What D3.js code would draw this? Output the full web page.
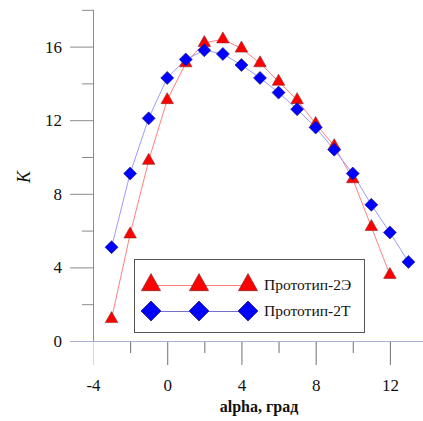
<!DOCTYPE html>
<html>
<head>
<meta charset="utf-8">
<script src="https://cdn.jsdelivr.net/npm/d3@7"></script>
<style>
  html, body { margin: 0; padding: 0; background: #fff; }
  svg { display: block; }
</style>
</head>
<body>
<svg id="chart" width="423" height="421"></svg>
<script>
// Angle of attack, degrees
const alphaE = [-3, -2, -1, 0, 1, 2, 3, 4, 5, 6, 7, 8, 9, 10, 11, 12];
const kE = [1.2, 5.8, 9.8, 13.1, 15.1, 16.2, 16.4, 15.9, 15.1, 14.1, 13.1, 11.8, 10.6, 8.8, 6.2, 3.6];

const alphaT = [-3, -2, -1, 0, 1, 2, 3, 4, 5, 6, 7, 8, 9, 10, 11, 12, 13];
const kT = [5.1, 9.1, 12.1, 14.3, 15.3, 15.8, 15.6, 15.0, 14.3, 13.5, 12.6, 11.6, 10.4, 9.1, 7.4, 5.9, 4.3];

const seriesNames = ["Прототип-2Э", "Прототип-2Т"];
const xMajorTicks = [-4, 0, 4, 8, 12];
const xMinorTicks = [-2, 2, 6, 10];
const yMajorTicks = [0, 4, 8, 12, 16];
const yMinorTicks = [2, 6, 10, 14, 18];
const xTitle = "alpha, град";
const yTitle = "K";

const FONT = "Liberation Serif";
const svg = d3.select("#chart");
const plainNumber = d => String(d);

const x = d3.scaleLinear().domain([-4, 14]).range([93, 427]);
const y = d3.scaleLinear().domain([0, 18]).range([341, 9.8]);

const axisColor = "#8a8a8a";

// Y axis: major and minor ticks drawn to the left
const yAxisMajor = d3.axisLeft(y).tickValues(yMajorTicks).tickSize(23).tickPadding(8).tickFormat(plainNumber);
const yAxisMinor = d3.axisLeft(y).tickValues(yMinorTicks).tickSize(11).tickFormat("");

const gyMinor = svg.append("g").attr("transform", "translate(93,0)").call(yAxisMinor);
const gy = svg.append("g").attr("transform", "translate(93,0)").call(yAxisMajor);
[gy, gyMinor].forEach(g => {
  g.select(".domain").remove();
  g.attr("font-family", FONT).attr("font-size", 17);
  g.selectAll(".tick line").attr("stroke", axisColor).attr("stroke-width", 1);
});
gy.selectAll(".tick text")
  .style("font-family", FONT).style("font-size", "17px").attr("fill", "#111");

// X axis: ticks drawn downward
const xAxisMajor = d3.axisBottom(x).tickValues(xMajorTicks).tickSize(24).tickPadding(14).tickFormat(plainNumber);
const xAxisMinor = d3.axisBottom(x).tickValues(xMinorTicks).tickSize(12).tickFormat("");
const gxMinor = svg.append("g").attr("transform", "translate(0,341)").call(xAxisMinor);
const gx = svg.append("g").attr("transform", "translate(0,341)").call(xAxisMajor);
[gx, gxMinor].forEach(g => {
  g.select(".domain").remove();
  g.attr("font-family", FONT).attr("font-size", 17);
  g.selectAll(".tick line").attr("stroke", "#707070").attr("stroke-width", 1);
});
gx.selectAll(".tick text")
  .style("font-family", FONT).style("font-size", "17px").attr("fill", "#111");
gx.selectAll(".tick").filter(d => d === -4).select("line").attr("stroke", "#d8d8d8");

// Axis lines
svg.append("line")
  .attr("x1", 93.5).attr("x2", 93.5).attr("y1", y(18)).attr("y2", y(0))
  .attr("stroke", axisColor);
svg.append("line")
  .attr("x1", 70).attr("x2", 423).attr("y1", 341.5).attr("y2", 341.5)
  .attr("stroke", "#a9afd6");

// Axis titles
svg.append("text")
  .attr("x", 259).attr("y", 412)
  .attr("text-anchor", "middle")
  .style("font-family", FONT).style("font-size", "16px").style("font-weight", "bold")
  .attr("fill", "#111")
  .text(xTitle);
svg.append("text")
  .attr("transform", "translate(30,177) rotate(-90)")
  .attr("text-anchor", "middle")
  .style("font-family", FONT).style("font-size", "18px").style("font-style", "italic")
  .attr("fill", "#111")
  .text(yTitle);

// Marker shapes
function trianglePath(w, h) {
  return `M0,${-h * 2 / 3}L${w / 2},${h / 3}L${-w / 2},${h / 3}Z`;
}
function diamondPath(r) {
  return `M0,${-r}L${r},0L0,${r}L${-r},0Z`;
}

const line = d3.line().x(d => x(d[0])).y(d => y(d[1]));

const dataE = alphaE.map((a, i) => [a, kE[i]]);
const dataT = alphaT.map((a, i) => [a, kT[i]]);

// Series lines
svg.append("path").datum(dataE).attr("d", line)
  .attr("fill", "none").attr("stroke", "#ff7f7f").attr("stroke-width", 1);
svg.append("path").datum(dataT).attr("d", line)
  .attr("fill", "none").attr("stroke", "#9b9bff").attr("stroke-width", 1);

// Series markers
svg.append("g").selectAll("path").data(dataE).join("path")
  .attr("transform", d => `translate(${x(d[0])},${y(d[1])})`)
  .attr("d", trianglePath(12.5, 11))
  .attr("fill", "#ff0000").attr("stroke", "#8a2a2a").attr("stroke-width", 0.6);
svg.append("g").selectAll("path").data(dataT).join("path")
  .attr("transform", d => `translate(${x(d[0])},${y(d[1])})`)
  .attr("d", diamondPath(6.5))
  .attr("fill", "#0000ff").attr("stroke", "#20206a").attr("stroke-width", 0.6);

// Legend
const legend = svg.append("g");
legend.append("rect")
  .attr("x", 134.5).attr("y", 259.5).attr("width", 230).attr("height", 73)
  .attr("fill", "#fff").attr("stroke", "#555").attr("stroke-width", 1);

const legendRows = [
  { name: seriesNames[0], color: "#ff0000", lineColor: "#ff7f7f", shape: trianglePath(19, 17), stroke: "#8a2a2a", cy: 285 },
  { name: seriesNames[1], color: "#0000ff", lineColor: "#7070d0", shape: diamondPath(10), stroke: "#20206a", cy: 311 }
];
const legendXs = [151, 199, 248];
legendRows.forEach(r => {
  legend.append("line")
    .attr("x1", legendXs[0]).attr("x2", legendXs[2])
    .attr("y1", r.cy + 0.5).attr("y2", r.cy + 0.5)
    .attr("stroke", r.lineColor);
  legendXs.forEach(lx => {
    legend.append("path")
      .attr("transform", `translate(${lx},${r.cy})`)
      .attr("d", r.shape)
      .attr("fill", r.color).attr("stroke", r.stroke).attr("stroke-width", 0.8);
  });
  legend.append("text")
    .attr("x", 264).attr("y", r.cy + 5)
    .style("font-family", FONT).style("font-size", "15.5px").attr("fill", "#111")
    .text(r.name);
});
</script>
</body>
</html>
